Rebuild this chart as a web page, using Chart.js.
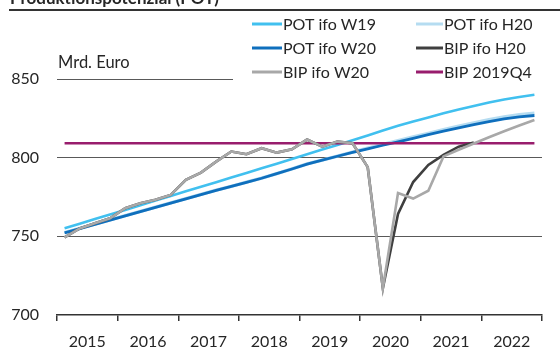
<!DOCTYPE html>
<html>
<head>
<meta charset="utf-8">
<script src="https://cdn.jsdelivr.net/npm/chart.js@4.4.1/dist/chart.umd.min.js"></script>
<style>
  html, body { margin: 0; padding: 0; background: #fff; }
  #wrap { width: 560px; height: 347px; position: relative; }
</style>
</head>
<body>
<div id="wrap"><canvas id="potChart"></canvas></div>
<script>
// Quarterly series 2015Q1 - 2022Q4, Mrd. Euro
const quarters = [
  "2015Q1","2015Q2","2015Q3","2015Q4","2016Q1","2016Q2","2016Q3","2016Q4",
  "2017Q1","2017Q2","2017Q3","2017Q4","2018Q1","2018Q2","2018Q3","2018Q4",
  "2019Q1","2019Q2","2019Q3","2019Q4","2020Q1","2020Q2","2020Q3","2020Q4",
  "2021Q1","2021Q2","2021Q3","2021Q4","2022Q1","2022Q2","2022Q3","2022Q4"
]
const years = ["2015","2016","2017","2018","2019","2020","2021","2022"]
const yTicks = [700, 750, 800, 850]

const potW19 = [
  755.1, 758.0, 761.0, 763.9, 766.8, 769.8, 772.7, 775.7,
  778.6, 781.5, 784.4, 787.4, 790.3, 793.2, 796.2, 799.2,
  802.2, 805.2, 808.1, 811.0, 814.1, 817.2, 820.3, 823.0,
  825.6, 828.2, 830.6, 832.9, 835.1, 837.0, 838.6, 840.0
]
const potH20 = [
  752.3, 755.0, 757.7, 760.4, 763.1, 765.8, 768.5, 771.2,
  773.9, 776.6, 779.3, 781.8, 784.4, 787.0, 789.9, 792.9,
  796.0, 798.5, 801.0, 803.5, 806.0, 808.5, 810.8, 813.2,
  815.5, 817.8, 820.0, 822.1, 824.1, 825.9, 827.3, 828.3
]
const potW20 = [
  752.2, 754.9, 757.6, 760.3, 763.0, 765.7, 768.4, 771.1,
  773.8, 776.5, 779.2, 781.7, 784.3, 786.9, 789.8, 792.8,
  795.9, 798.4, 800.9, 803.3, 805.6, 807.9, 810.0, 812.3,
  814.6, 816.8, 818.9, 821.0, 822.9, 824.6, 825.9, 826.8
]
const bipH20 = [
  749.4, 755.0, 758.3, 761.5, 767.9, 771.0, 773.2, 776.3,
  785.9, 790.5, 797.5, 803.9, 802.2, 806.0, 803.2, 805.3,
  811.5, 807.0, 810.2, 809.2, 794.0, 717.0, 764.2, 784.5,
  795.4, 801.8, 807.0, 809.6, null, null, null, null
]
const bipW20 = [
  749.4, 755.0, 758.3, 761.5, 767.9, 771.0, 773.2, 776.3,
  785.9, 790.5, 797.5, 803.9, 802.2, 806.0, 803.2, 805.3,
  811.5, 807.0, 810.2, 809.2, 794.0, 717.0, 777.5, 774.0,
  779.0, 800.8, 805.0, 809.0, 813.0, 816.8, 820.5, 824.0
]
const bip2019Q4 = [
  809.2, 809.2, 809.2, 809.2, 809.2, 809.2, 809.2, 809.2,
  809.2, 809.2, 809.2, 809.2, 809.2, 809.2, 809.2, 809.2,
  809.2, 809.2, 809.2, 809.2, 809.2, 809.2, 809.2, 809.2,
  809.2, 809.2, 809.2, 809.2, 809.2, 809.2, 809.2, 809.2
]

const FONT = "Lato, 'Open Sans', sans-serif"
const TEXT = "#262626"

function line(label, data, color, order, width) {
  return {
    label, data, order,
    borderColor: color,
    backgroundColor: color,
    borderWidth: width || 2.6,
    pointRadius: 0,
    tension: 0,
    spanGaps: false,
    xAxisID: "x"
  }
}

// Legend is column-major: first three entries left, next three right
const datasets = [
  line("POT ifo W19", potW19, "#41c0ef", 4),
  line("POT ifo W20", potW20, "#0f6fbd", 3, 2.8),
  line("BIP ifo W20", bipW20, "#a8a8a8", 0),
  line("POT ifo H20", potH20, "#b5dcf1", 5, 3.4),
  line("BIP ifo H20", bipH20, "#3f3f3f", 1),
  line("BIP 2019Q4", bip2019Q4, "#981d6d", 2)
]

// Title strip, unit label, short 850 rule and the two-column legend
const decorations = {
  id: "decorations",
  afterDraw(chart) {
    const ctx = chart.ctx
    const area = chart.chartArea
    const y = chart.scales.y
    ctx.save()

    ctx.fillStyle = TEXT
    ctx.font = "bold 17px " + FONT
    ctx.textBaseline = "alphabetic"
    ctx.fillText("Produktionspotenzial (POT)", 10, 4)

    ctx.strokeStyle = "#333"
    ctx.lineWidth = 2
    ctx.beginPath()
    ctx.moveTo(9, 10)
    ctx.lineTo(560, 10)
    ctx.stroke()

    ctx.font = "16.5px " + FONT
    ctx.fillText("Mrd. Euro", area.left + 1, 68)

    const y850 = Math.round(y.getPixelForValue(850)) + 0.5
    ctx.strokeStyle = "#595959"
    ctx.lineWidth = 1
    ctx.beginPath()
    ctx.moveTo(area.left, y850)
    ctx.lineTo(area.left + 176, y850)
    ctx.stroke()

    ctx.font = "16px " + FONT
    const cols = [{ x0: 252, x1: 282 }, { x0: 416, x1: 443 }]
    ctx.textBaseline = "middle"
    chart.data.datasets.forEach((ds, k) => {
      const c = cols[Math.floor(k / 3)]
      const ry = 24 + (k % 3) * 24
      ctx.strokeStyle = ds.borderColor
      ctx.lineWidth = 3
      ctx.beginPath()
      ctx.moveTo(c.x0, ry)
      ctx.lineTo(c.x1, ry)
      ctx.stroke()
      ctx.fillStyle = TEXT
      ctx.fillText(ds.label, c.x1 + 1, ry + 1)
    })
    ctx.restore()
  }
}

new Chart(document.getElementById("potChart"), {
  type: "line",
  data: { labels: quarters, datasets },
  options: {
    responsive: true,
    maintainAspectRatio: false,
    animation: false,
    layout: { padding: { top: 79, right: 18, bottom: 0, left: 0 } },
    plugins: { legend: { display: false }, tooltip: { enabled: false } },
    scales: {
      x: { type: "category", display: false, offset: true },
      years: {
        type: "category",
        labels: years,
        position: "bottom",
        offset: true,
        afterFit(scale) { scale.height = 32 },
        grid: { offset: true, drawOnChartArea: false, tickLength: 6, color: "#333", lineWidth: 1.5 },
        border: { color: "#333", width: 1.5 },
        ticks: { color: TEXT, font: { family: FONT, size: 16 }, padding: 11, maxRotation: 0, autoSkip: false }
      },
      y: {
        min: 700,
        max: 850,
        afterBuildTicks(scale) { scale.ticks = yTicks.map(v => ({ value: v })) },
        afterFit(scale) { scale.width = 57 },
        border: { display: false },
        grid: {
          drawTicks: false,
          color: c => (c.tick.value === 750 || c.tick.value === 800) ? "#595959" : "rgba(0,0,0,0)",
          lineWidth: 1
        },
        ticks: { color: TEXT, font: { family: FONT, size: 16 }, padding: 18 }
      }
    }
  },
  plugins: [decorations]
})
</script>
</body>
</html>
